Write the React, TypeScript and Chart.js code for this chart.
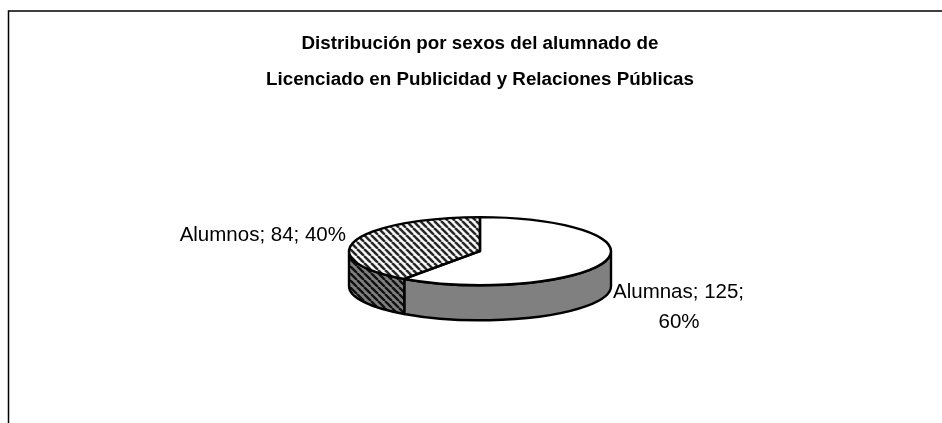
import React, { useEffect, useRef } from "react";
import { Chart, registerables } from "chart.js";

Chart.register(...registerables);

const categories = ["Alumnas", "Alumnos"];
const values = [125, 84];
const percents = [60, 40];
const titleLines = [
  "Distribución por sexos del alumnado de",
  "Licenciado en Publicidad y Relaciones Públicas",
];

const SQUASH = 0.26;
const DEPTH = 35;
const OUTLINE = 2.4;
const FONT = "'Liberation Sans', Arial, sans-serif";

function hatch(sy: number, bg: string, fg: string, lw: number): CanvasPattern {
  const size = 7;
  const c = document.createElement("canvas");
  c.width = size;
  c.height = size;
  const x = c.getContext("2d")!;
  x.fillStyle = bg;
  x.fillRect(0, 0, size, size);
  x.strokeStyle = fg;
  x.lineWidth = lw;
  x.beginPath();
  for (let i = -size; i <= size * 2; i += size) {
    x.moveTo(i, 0);
    x.lineTo(i + size, size);
  }
  x.stroke();
  const p = x.createPattern(c, "repeat")!;
  if (sy !== 1) p.setTransform(new DOMMatrix().scale(1, 1 / sy));
  return p;
}

const pie3d = {
  id: "pie3d",
  beforeDatasetDraw(chart: any) {
    const { ctx } = chart;
    const arcs = chart.getDatasetMeta(0).data;
    const sides = ["#808080", hatch(1, "#808080", "#111111", 2.4)];
    ctx.save();
    arcs.forEach((a: any, i: number) => {
      const rx = a.outerRadius;
      const ry = rx * SQUASH;
      const s = Math.max(a.startAngle, 0);
      const e = Math.min(a.endAngle, Math.PI);
      if (e <= s) return;
      ctx.beginPath();
      ctx.ellipse(a.x, a.y, rx, ry, 0, s, e);
      ctx.ellipse(a.x, a.y + DEPTH, rx, ry, 0, e, s, true);
      ctx.closePath();
      ctx.fillStyle = sides[i];
      ctx.fill();
      ctx.strokeStyle = "#000";
      ctx.lineWidth = OUTLINE;
      ctx.lineJoin = "round";
      ctx.stroke();
    });
    ctx.restore();
    const first = arcs[0];
    ctx.save();
    ctx.translate(first.x, first.y);
    ctx.scale(1, SQUASH);
    ctx.translate(-first.x, -first.y);
  },
  afterDatasetDraw(chart: any) {
    const { ctx } = chart;
    ctx.restore();
    const arcs = chart.getDatasetMeta(0).data;
    ctx.save();
    ctx.strokeStyle = "#000";
    ctx.lineWidth = OUTLINE;
    ctx.lineJoin = "round";
    arcs.forEach((a: any) => {
      const rx = a.outerRadius;
      const ry = rx * SQUASH;
      ctx.beginPath();
      ctx.moveTo(a.x, a.y);
      ctx.ellipse(a.x, a.y, rx, ry, 0, a.startAngle, a.endAngle);
      ctx.closePath();
      ctx.stroke();
    });
    ctx.restore();
  },
  afterDraw(chart: any) {
    const { ctx } = chart;
    const arcs = chart.getDatasetMeta(0).data;
    ctx.save();
    // frame of the chart object
    ctx.strokeStyle = "#000";
    ctx.lineWidth = 1.5;
    ctx.beginPath();
    ctx.moveTo(8.5, 423);
    ctx.lineTo(8.5, 11);
    ctx.lineTo(942, 11);
    ctx.stroke();
    // data labels
    ctx.fillStyle = "#000";
    ctx.font = `20.5px ${FONT}`;
    ctx.textBaseline = "middle";
    const a0 = arcs[0];
    const a1 = arcs[1];
    ctx.textAlign = "left";
    ctx.fillText(`${categories[0]}; ${values[0]};`, a0.x + a0.outerRadius + 2, 292);
    ctx.textAlign = "center";
    ctx.fillText(`${percents[0]}%`, a0.x + a0.outerRadius + 68, 322);
    ctx.textAlign = "right";
    ctx.fillText(`${categories[1]}; ${values[1]}; ${percents[1]}%`, a1.x - a1.outerRadius - 3, 235);
    ctx.restore();
  },
};

export default function App() {
  const ref = useRef<HTMLCanvasElement>(null);
  useEffect(() => {
    document.body.style.margin = "0";
    document.body.style.overflow = "hidden";
    const chart = new Chart(ref.current!, {
      type: "pie",
      data: {
        labels: categories,
        datasets: [
          {
            data: values,
            backgroundColor: ["#ffffff", hatch(SQUASH, "#ffffff", "#222222", 2.5)],
            borderWidth: 0,
            radius: 131,
          },
        ],
      },
      options: {
        responsive: false,
        animation: false,
        layout: { padding: { left: 18, top: 25, bottom: 19 } },
        plugins: {
          legend: { display: false },
          tooltip: { enabled: false },
          title: {
            display: true,
            text: titleLines,
            color: "#000",
            font: { family: FONT, size: 18.8, weight: "bold", lineHeight: 1.95 },
            padding: 0,
          },
        },
      },
      plugins: [pie3d],
    } as any);
    return () => chart.destroy();
  }, []);
  return (
    <canvas
      ref={ref}
      width={942}
      height={423}
      style={{ display: "block", width: 942, height: 423 }}
    />
  );
}
